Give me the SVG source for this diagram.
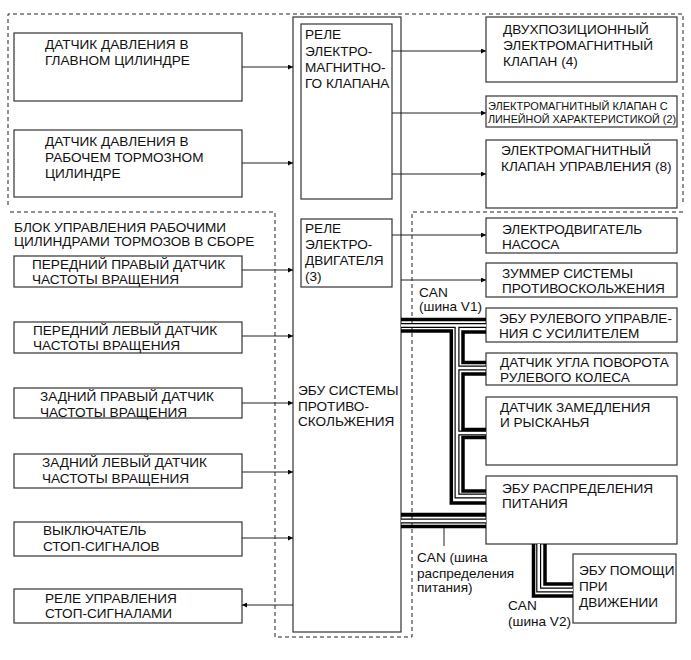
<svg xmlns="http://www.w3.org/2000/svg" width="691" height="660" viewBox="0 0 691 660">
<style>
.bx{fill:#fff;stroke:#333;stroke-width:1.2}
.dash{fill:none;stroke:#222;stroke-width:1;stroke-dasharray:4 3}
.ln{fill:none;stroke:#222;stroke-width:1}
.t{font-family:"Liberation Sans",Arial,sans-serif;font-size:13.6px;fill:#111}
.ts{font-family:"Liberation Sans",Arial,sans-serif;font-size:11px;fill:#111}
.thk{fill:none;stroke:#000;stroke-width:3.5;stroke-linejoin:miter}
.hb{fill:none;stroke:#000;stroke-width:5}
.hw{fill:none;stroke:#fff;stroke-width:2.6}
</style>
<defs>
<marker id="arr" viewBox="0 0 10 10" refX="10" refY="5" markerWidth="9" markerHeight="5" orient="auto" markerUnits="userSpaceOnUse"><path d="M0,0 L10,5 L0,10 z" fill="#000"/></marker>
</defs>
<rect width="691" height="660" fill="#fff"/>
<g id="frames">
<path class="dash" d="M8,205 V14 H683 V205"/>
<path class="dash" d="M10,212 H275 V637 H412 V212 H683"/>
</g>
<g id="ecu">
<rect class="bx" x="293" y="17" width="108" height="615"/>
<text class="t" x="298" y="395">ЭБУ СИСТЕМЫ</text>
<text class="t" x="298" y="410.5">ПРОТИВО-</text>
<text class="t" x="298" y="426">СКОЛЬЖЕНИЯ</text>
</g>
<g id="relay-valve">
<rect class="bx" x="301" y="24" width="91" height="175"/>
<text class="t" x="305" y="38.5">РЕЛЕ</text>
<text class="t" x="305" y="55.5">ЭЛЕКТРО-</text>
<text class="t" x="305" y="72">МАГНИТНО-</text>
<text class="t" x="305" y="88">ГО КЛАПАНА</text>
</g>
<g id="relay-motor">
<rect class="bx" x="301" y="219" width="91" height="68"/>
<text class="t" x="305" y="232.5">РЕЛЕ</text>
<text class="t" x="305" y="248.5">ЭЛЕКТРО-</text>
<text class="t" x="305" y="265">ДВИГАТЕЛЯ</text>
<text class="t" x="305" y="281">(3)</text>
</g>
<g id="master-sensor">
<rect class="bx" x="14" y="33" width="228" height="68"/>
<text class="t" x="45" y="49">ДАТЧИК ДАВЛЕНИЯ В</text>
<text class="t" x="45" y="65">ГЛАВНОМ ЦИЛИНДРЕ</text>
</g>
<g id="wheel-cyl-sensor">
<rect class="bx" x="14" y="130" width="228" height="67"/>
<text class="t" x="45" y="146">ДАТЧИК ДАВЛЕНИЯ В</text>
<text class="t" x="45" y="162">РАБОЧЕМ ТОРМОЗНОМ</text>
<text class="t" x="45" y="177.5">ЦИЛИНДРЕ</text>
</g>
<g id="block-label">
<text class="t" x="14" y="232">БЛОК УПРАВЛЕНИЯ РАБОЧИМИ</text>
<text class="t" x="14" y="246">ЦИЛИНДРАМИ ТОРМОЗОВ В СБОРЕ</text>
</g>
<g id="fr-speed">
<rect class="bx" x="14" y="256" width="228" height="31"/>
<text class="t" x="32" y="268.5">ПЕРЕДНИЙ ПРАВЫЙ ДАТЧИК</text>
<text class="t" x="32" y="284">ЧАСТОТЫ ВРАЩЕНИЯ</text>
</g>
<g id="fl-speed">
<rect class="bx" x="14" y="322" width="228" height="31"/>
<text class="t" x="33" y="334.5">ПЕРЕДНИЙ ЛЕВЫЙ ДАТЧИК</text>
<text class="t" x="33" y="350">ЧАСТОТЫ ВРАЩЕНИЯ</text>
</g>
<g id="rr-speed">
<rect class="bx" x="14" y="388" width="228" height="30"/>
<text class="t" x="40" y="401">ЗАДНИЙ ПРАВЫЙ ДАТЧИК</text>
<text class="t" x="40" y="416.5">ЧАСТОТЫ ВРАЩЕНИЯ</text>
</g>
<g id="rl-speed">
<rect class="bx" x="14" y="454" width="228" height="34"/>
<text class="t" x="42" y="467">ЗАДНИЙ ЛЕВЫЙ ДАТЧИК</text>
<text class="t" x="42" y="482.5">ЧАСТОТЫ ВРАЩЕНИЯ</text>
</g>
<g id="stop-switch">
<rect class="bx" x="14" y="522" width="228" height="34"/>
<text class="t" x="43" y="535">ВЫКЛЮЧАТЕЛЬ</text>
<text class="t" x="43" y="551">СТОП-СИГНАЛОВ</text>
</g>
<g id="stop-relay">
<rect class="bx" x="14" y="589" width="228" height="34"/>
<text class="t" x="45" y="602.5">РЕЛЕ УПРАВЛЕНИЯ</text>
<text class="t" x="45" y="618">СТОП-СИГНАЛАМИ</text>
</g>
<g id="two-pos-valve">
<rect class="bx" x="486" y="17" width="191" height="65"/>
<text class="t" x="503" y="33.5">ДВУХПОЗИЦИОННЫЙ</text>
<text class="t" x="503" y="49.5">ЭЛЕКТРОМАГНИТНЫЙ</text>
<text class="t" x="503" y="66">КЛАПАН (4)</text>
</g>
<g id="linear-valve">
<rect class="bx" x="486" y="96" width="191" height="31"/>
<text class="ts" x="488" y="110">ЭЛЕКТРОМАГНИТНЫЙ КЛАПАН С</text>
<text class="ts" x="488" y="122.5" textLength="188" lengthAdjust="spacingAndGlyphs">ЛИНЕЙНОЙ ХАРАКТЕРИСТИКОЙ (2)</text>
</g>
<g id="control-valve">
<rect class="bx" x="486" y="140" width="191" height="68"/>
<text class="t" x="501" y="155">ЭЛЕКТРОМАГНИТНЫЙ</text>
<text class="t" x="501" y="171">КЛАПАН УПРАВЛЕНИЯ (8)</text>
</g>
<g id="pump-motor">
<rect class="bx" x="486" y="218" width="191" height="35"/>
<text class="t" x="502" y="234">ЭЛЕКТРОДВИГАТЕЛЬ</text>
<text class="t" x="502" y="249">НАСОСА</text>
</g>
<g id="buzzer">
<rect class="bx" x="486" y="263" width="191" height="34"/>
<text class="t" x="502" y="277.5">ЗУММЕР СИСТЕМЫ</text>
<text class="t" x="502" y="292.5">ПРОТИВОСКОЛЬЖЕНИЯ</text>
</g>
<g id="eps-ecu">
<rect class="bx" x="486" y="308" width="191" height="34"/>
<text class="t" x="499" y="323">ЭБУ РУЛЕВОГО УПРАВЛЕ-</text>
<text class="t" x="499" y="338">НИЯ С УСИЛИТЕЛЕМ</text>
</g>
<g id="steer-sensor">
<rect class="bx" x="486" y="353" width="191" height="32"/>
<text class="t" x="500" y="366.5">ДАТЧИК УГЛА ПОВОРОТА</text>
<text class="t" x="500" y="382">РУЛЕВОГО КОЛЕСА</text>
</g>
<g id="yaw-sensor">
<rect class="bx" x="486" y="397" width="191" height="68"/>
<text class="t" x="500" y="411.5">ДАТЧИК ЗАМЕДЛЕНИЯ</text>
<text class="t" x="500" y="426.5">И РЫСКАНЬЯ</text>
</g>
<g id="power-ecu">
<rect class="bx" x="486" y="476" width="191" height="68"/>
<text class="t" x="502" y="493">ЭБУ РАСПРЕДЕЛЕНИЯ</text>
<text class="t" x="502" y="507.5">ПИТАНИЯ</text>
</g>
<g id="drive-assist-ecu">
<rect class="bx" x="573" y="554" width="103" height="69"/>
<text class="t" x="579" y="575">ЭБУ ПОМОЩИ</text>
<text class="t" x="579" y="591">ПРИ</text>
<text class="t" x="579" y="607">ДВИЖЕНИИ</text>
</g>
<g id="connectors">
<path class="ln" marker-end="url(#arr)" d="M242,67 H293"/>
<path class="ln" marker-end="url(#arr)" d="M242,163 H293"/>
<path class="ln" marker-end="url(#arr)" d="M242,270 H293"/>
<path class="ln" marker-end="url(#arr)" d="M242,336 H293"/>
<path class="ln" marker-end="url(#arr)" d="M242,403 H293"/>
<path class="ln" marker-end="url(#arr)" d="M242,472 H293"/>
<path class="ln" marker-end="url(#arr)" d="M242,538 H293"/>
<path class="ln" marker-end="url(#arr)" d="M293,605 H242"/>
<path class="ln" marker-end="url(#arr)" d="M392,51 H486"/>
<path class="ln" marker-end="url(#arr)" d="M392,113 H486"/>
<path class="ln" marker-end="url(#arr)" d="M392,174 H486"/>
<path class="ln" marker-end="url(#arr)" d="M392,235 H486"/>
<path class="ln" marker-end="url(#arr)" d="M401,280 H486"/>
<g id="can-v1">
<path class="hb" d="M401,325.5 H486 M457,325.5 V496 H486 M457,368 H486 M457,433 H486"/>
<path class="hw" d="M401,325.5 H486 M457,325.5 V496 H486 M457,368 H486 M457,433 H486"/>
<path class="thk" d="M401,319.5 H486"/>
<path class="thk" d="M401,331 H451.3 V503 H486"/>
<path class="thk" d="M486,332 H463 V362.5 H486"/>
<path class="thk" d="M486,374 H463 V429.5 H486"/>
<path class="thk" d="M486,437.5 H463 V491 H486"/>
</g>
<g id="can-power">
<path class="thk" d="M401,514.7 H486" style="stroke-width:4"/>
<path class="hb" d="M401,521 H486"/>
<path class="hw" d="M401,521 H486"/>
<path class="thk" d="M401,526.6 H486"/>
<path class="ln" d="M444,528 V546"/>
</g>
<g id="can-v2">
<path class="hb" d="M538.7,544 V590 H573"/>
<path class="hw" d="M538.7,544 V590 H573"/>
<path class="thk" d="M533.5,544 V596 H573"/>
<path class="thk" d="M545,544 V584 H573"/>
</g>
</g>
<g id="labels">
<text class="t" x="419" y="296.5">CAN</text>
<text class="t" x="419" y="310.5">(шина V1)</text>
<text class="t" x="417" y="562">CAN (шина</text>
<text class="t" x="417" y="577.5">распределения</text>
<text class="t" x="417" y="592">питания)</text>
<text class="t" x="508" y="610">CAN</text>
<text class="t" x="508" y="626">(шина V2)</text>
</g>
</svg>
